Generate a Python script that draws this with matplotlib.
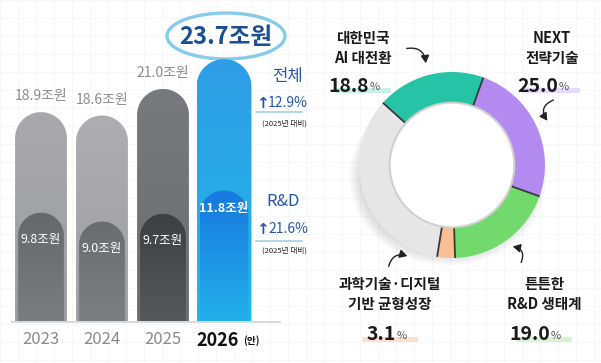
import numpy as np
import matplotlib
matplotlib.use("Agg")
import matplotlib.pyplot as plt
from matplotlib.path import Path
from matplotlib.patches import PathPatch, Ellipse, Circle, Rectangle
from matplotlib.colors import LinearSegmentedColormap
import matplotlib.patheffects as pe

plt.rcParams['font.family'] = ['Noto Sans CJK KR', 'DejaVu Sans']

# ---------------- data ----------------
years = ["2023", "2024", "2025", "2026"]
total_budget = [18.9, 18.6, 21.0, 23.7]      # 조원
rnd_budget = [9.8, 9.0, 9.7, 11.8]           # 조원
total_growth = "12.9"
rnd_growth = "21.6"

focus_labels = ["대한민국\nAI 대전환", "NEXT\n전략기술", "튼튼한\nR&D 생태계", "과학기술·디지털\n기반 균형성장"]
focus_share = [18.8, 25.0, 19.0, 3.1]
other_share = round(100 - sum(focus_share), 1)

W, H = 601, 363
fig = plt.figure(figsize=(W / 100, H / 100), dpi=100)
fig.patch.set_facecolor("white")

# background overlay axes in pixel coordinates
bg = fig.add_axes([0, 0, 1, 1], zorder=0)
bg.set_xlim(0, W)
bg.set_ylim(H, 0)
bg.axis("off")
for gx in np.arange(0, W, 18):
    bg.axvline(gx, color="#f5f6f7", lw=0.6, zorder=0)
for gy in np.arange(0, H, 18):
    bg.axhline(gy, color="#f5f6f7", lw=0.6, zorder=0)

# ---------------- bar chart ----------------
base_px = 321
px_per_unit = 11.05
ax = fig.add_axes([0, (H - base_px) / H, 300 / W, base_px / H], zorder=2)
ax.set_facecolor("none")
ax.set_xlim(-41 / 61, (300 - 41) / 61)
ax.set_ylim(0, base_px / px_per_unit)
ax.axis("off")

outer_cols = [("#a7a9ac", "#9a9da0"), ("#acaeb1", "#9c9ea1"), ("#777a7d", "#6b6e71"), ("#2f9ce8", "#1fb8e6")]
inner_cols = [("#66696c", "#7a7d80"), ("#6a6d70", "#7c7f82"), ("#3d4043", "#56595c"), ("#1778df", "#22b0ea")]

xunit_px = 61.0


def pill(xc, width, height):
    r_x = width / 2
    r_y = (width / 2) * xunit_px / px_per_unit
    top = height - r_y
    th = np.linspace(np.pi, 0, 40)
    arc = np.column_stack([xc + r_x * np.cos(th), top + r_y * np.sin(th)])
    verts = np.vstack([[xc - r_x, 0], arc, [xc + r_x, 0], [xc - r_x, 0]])
    codes = [Path.MOVETO] + [Path.LINETO] * (len(verts) - 2) + [Path.CLOSEPOLY]
    return Path(verts, codes)


def grad_bar(xc, width, height, cols, z):
    p = pill(xc, width, height)
    patch = PathPatch(p, facecolor="none", edgecolor="none", zorder=z)
    ax.add_patch(patch)
    cmap = LinearSegmentedColormap.from_list("g", [cols[1], cols[0]])
    g = np.linspace(0, 1, 100).reshape(-1, 1)
    im = ax.imshow(g, cmap=cmap, aspect="auto", origin="lower",
                   extent=(xc - width / 2, xc + width / 2, 0, height), zorder=z)
    im.set_clip_path(patch)


xs = np.arange(len(years))
widths = [0.85, 0.85, 0.85, 0.9]
inner_w = [0.75, 0.75, 0.75, 0.8]
for i in xs:
    grad_bar(i, widths[i], total_budget[i], outer_cols[i], 3)
    grad_bar(i, inner_w[i], rnd_budget[i], inner_cols[i], 4)

ax.set_xlim(-41 / 61, (300 - 41) / 61)
ax.set_ylim(0, base_px / px_per_unit)

# baseline
bg.plot([12, 280], [321.5, 321.5], color="#d8d9db", lw=1.5, zorder=1)

# value labels
for i in range(3):
    ax.text(i, total_budget[i] + 0.8, f"{total_budget[i]:.1f}조원", ha="center", va="bottom",
            fontsize=10, color="#8c8c8c", zorder=6)
    ax.text(i, rnd_budget[i] - 2.4, f"{rnd_budget[i]:.1f}조원", ha="center", va="center",
            fontsize=9, color="white", zorder=6)
ax.text(3, rnd_budget[3] - 1.6, f"{rnd_budget[3]:.1f}조원", ha="center", va="center",
        fontsize=9, color="white", fontweight="bold", zorder=6)

# big total label
bg.add_patch(Ellipse((226, 36), 118, 46, fill=False, edgecolor="#86cbe9", lw=2.4, zorder=5))
bg.text(226, 37, f"{total_budget[3]:.1f}조원", ha="center", va="center", fontsize=17,
        fontweight="heavy", color="#1c4f92", zorder=6)

# year labels
for i, y in enumerate(years[:3]):
    bg.text(41 + 61 * i, 340, y, ha="center", va="center", fontsize=12, color="#8a8a8a", zorder=6)
bg.text(218, 340, years[3], ha="center", va="center", fontsize=13, fontweight="heavy",
        color="#111111", zorder=6)
bg.text(243, 341, "(안)", ha="left", va="center", fontsize=7, fontweight="bold", color="#111111", zorder=6)

# growth annotations
blue = "#2756a6"
bg.text(287, 76, "전체", ha="center", va="center", fontsize=12, color=blue, style="italic", zorder=6)
bg.text(262, 103, "↑", ha="center", va="center", fontsize=11, fontweight="bold", color=blue,
        family=["DejaVu Sans"], zorder=6)
bg.text(268, 103, f"{total_growth}%", ha="left", va="center", fontsize=10, color=blue, zorder=6)
bg.plot([256, 302], [112, 112], color="#9fd0ea", lw=1.2, zorder=5)
bg.text(285, 124, "(2025년 대비)", ha="center", va="center", fontsize=5.5, color="#222222", zorder=6)

bg.text(283, 201, "R&D", ha="center", va="center", fontsize=12, color=blue, zorder=6)
bg.text(262, 229, "↑", ha="center", va="center", fontsize=11, fontweight="bold", color=blue,
        family=["DejaVu Sans"], zorder=6)
bg.text(268, 229, f"{rnd_growth}%", ha="left", va="center", fontsize=10, color=blue, zorder=6)
bg.plot([256, 302], [241, 241], color="#9fd0ea", lw=1.2, zorder=5)
bg.text(285, 251, "(2025년 대비)", ha="center", va="center", fontsize=5.5, color="#222222", zorder=6)

# ---------------- donut ----------------
cx, cy, R = 452, 165, 93
# soft shadow
for k, a in enumerate([0.05, 0.05, 0.05, 0.05]):
    bg.add_patch(Ellipse((cx - 4, cy + 12), 2 * R + 10 - 6 * k, 2 * R - 10 - 6 * k,
                         facecolor="#555555", alpha=a, edgecolor="none", zorder=1))

dax = fig.add_axes([(cx - R) / W, (H - cy - R) / H, 2 * R / W, 2 * R / H], zorder=3)
dax.set_facecolor("none")
vals = [focus_share[0], focus_share[1], focus_share[2], focus_share[3], other_share]
cols = ["#27c3a6", "#b38af0", "#72d96c", "#f7bf92", "#e6e6e6"]
start = 138
dax.pie(vals, colors=cols, startangle=start, counterclock=False, radius=1.0,
        wedgeprops=dict(width=0.33, edgecolor="none"))
# boundaries
ang = start - np.cumsum([0] + vals[:-1]) / 100 * 360
for a in ang:
    t = np.deg2rad(a)
    dax.plot([0.67 * np.cos(t), 1.0 * np.cos(t)], [0.67 * np.sin(t), 1.0 * np.sin(t)],
             color="#3a3a3a", lw=1.3, solid_capstyle="butt")
dax.add_patch(Circle((0, 0), 0.67, facecolor="white", edgecolor="#d0d0d0", lw=1.5, zorder=3))
dax.set_xlim(-1.0, 1.0)
dax.set_ylim(-1.0, 1.0)
dax.set_aspect("equal")
dax.axis("off")

bg.text(cx, cy - 2, "4대 중점\n투자 방향", ha="center", va="center", fontsize=15, fontweight="heavy",
        color="#111111", linespacing=1.1, zorder=8,
        path_effects=[pe.withStroke(linewidth=3.5, foreground="white"),
                      pe.SimplePatchShadow(offset=(1.5, -1.5), shadow_rgbFace="#777777", alpha=0.8),
                      pe.Normal()])

# category labels
lab_pos = [(363, 48), (552, 48), (544, 294), (390, 294)]
num_pos = [(363, 86), (552, 86), (544, 335), (390, 335)]
hl_cols = ["#c9efe7", "#e6dafb", "#d5f4d2", "#fbe1cd"]
for lab, (lx, ly), (nx, ny), v, hc in zip(focus_labels, lab_pos, num_pos, focus_share, hl_cols):
    bg.text(lx, ly, lab, ha="center", va="center", fontsize=10.5, fontweight="heavy",
            color="#1a1a1a", linespacing=1.35, zorder=6)
    bg.add_patch(Rectangle((nx - 28, ny + 2), 56, 5, facecolor=hc, edgecolor="none", zorder=5))
    bg.text(nx + 6, ny, f"{v:.1f}", ha="right", va="center", fontsize=14, fontweight="heavy",
            color="#1a1a1a", zorder=6)
    bg.text(nx + 7, ny + 1, "%", ha="left", va="center", fontsize=8, color="#555555", zorder=6)

# squiggly arrows
arrow_kw = dict(arrowstyle="-|>,head_width=0.25,head_length=0.45", color="#222222", lw=1.0)
bg.annotate("", xy=(426, 66), xytext=(404, 49),
            arrowprops=dict(connectionstyle="arc3,rad=-0.6", **arrow_kw), zorder=6)
bg.annotate("", xy=(549, 123), xytext=(556, 99),
            arrowprops=dict(connectionstyle="arc3,rad=0.7", **arrow_kw), zorder=6)
bg.annotate("", xy=(410, 257), xytext=(388, 269),
            arrowprops=dict(connectionstyle="arc3,rad=-0.6", **arrow_kw), zorder=6)
bg.annotate("", xy=(510, 246), xytext=(520, 265),
            arrowprops=dict(connectionstyle="arc3,rad=0.7", **arrow_kw), zorder=6)

fig.savefig("out.png", dpi=100, facecolor="white")
